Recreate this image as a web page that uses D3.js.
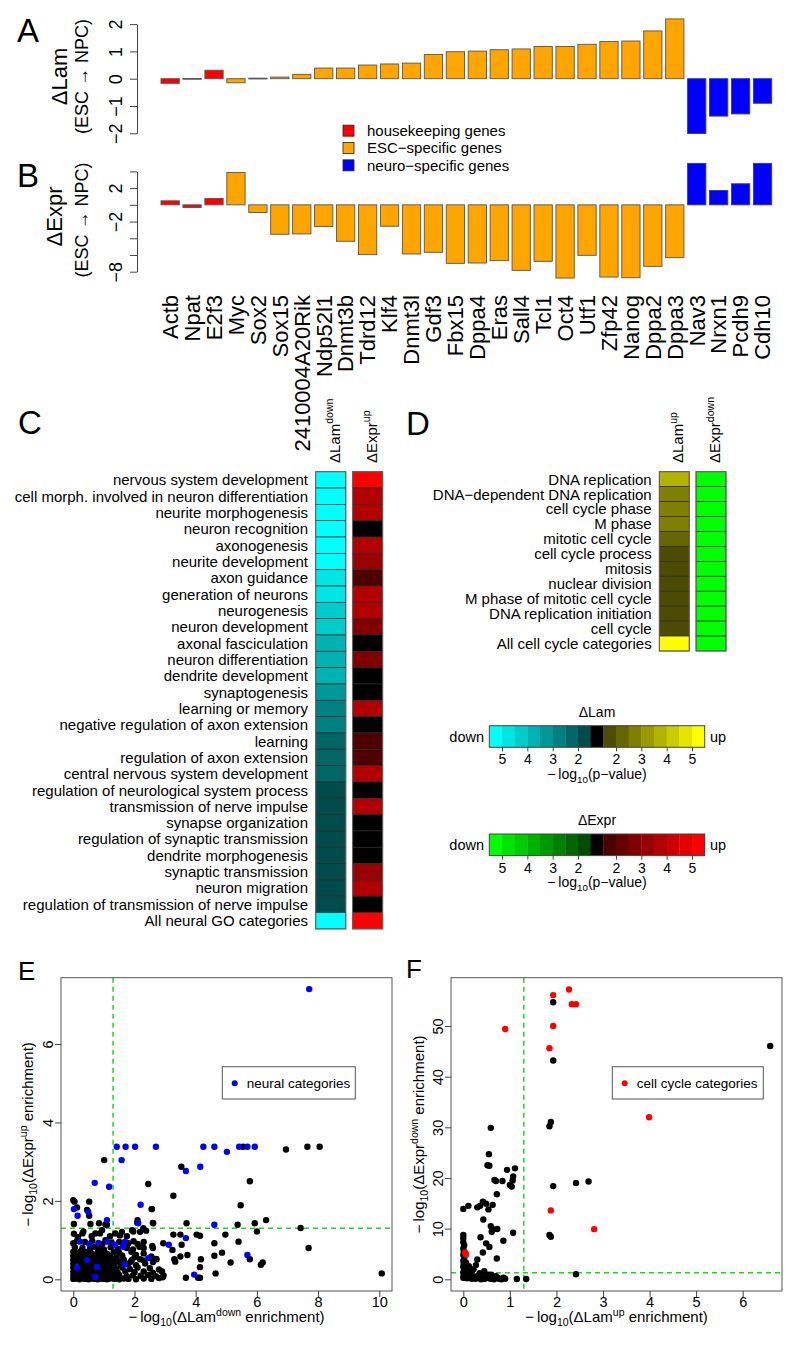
<!DOCTYPE html>
<html><head><meta charset="utf-8">
<script src="https://cdn.jsdelivr.net/npm/d3@7"></script>
<style>
body{margin:0;background:#fff;}
svg{display:block;font-family:"Liberation Sans",Arial,Helvetica,sans-serif;}
</style></head><body>
<svg id="chart" width="800" height="1345"></svg>
<script>
// ---------------- DATA ----------------
const genes = ["Actb","Npat","E2f3","Myc","Sox2","Sox15","2410004A20Rik","Ndp52l1","Dnmt3b","Tdrd12","Klf4","Dnmt3l","Gdf3","Fbx15","Dppa4","Eras","Sall4","Tcl1","Oct4","Utf1","Zfp42","Nanog","Dppa2","Dppa3","Nav3","Nrxn1","Pcdh9","Cdh10"];
const geneGroup = ["house","house","house","esc","esc","esc","esc","esc","esc","esc","esc","esc","esc","esc","esc","esc","esc","esc","esc","esc","esc","esc","esc","esc","neuro","neuro","neuro","neuro"];
const dLam = [-0.17,0.01,0.31,-0.15,0.02,0.06,0.16,0.39,0.39,0.50,0.54,0.57,0.89,0.99,1.01,1.06,1.09,1.18,1.18,1.26,1.36,1.38,1.75,2.19,-2.01,-1.37,-1.29,-0.90];
const dExpr = [0.48,-0.32,0.76,3.88,-0.92,-3.52,-3.48,-2.60,-4.36,-5.96,-2.56,-5.88,-5.68,-7.00,-6.96,-6.68,-7.84,-6.76,-8.76,-6.04,-8.64,-8.72,-7.36,-6.32,4.96,1.72,2.52,4.96];
const groupNames = ["housekeeping genes","ESC\u2212specific genes","neuro\u2212specific genes"];
const groupKeys = ["house","esc","neuro"];
const lamTicks = [-2,-1,0,1,2];
const exprTicks = [-8,-6,-4,-2,0,2,4];
const exprTickLabels = [2,-2,-8];

const cTerms = ["nervous system development","cell morph. involved in neuron differentiation","neurite morphogenesis","neuron recognition","axonogenesis","neurite development","axon guidance","generation of neurons","neurogenesis","neuron development","axonal fasciculation","neuron differentiation","dendrite development","synaptogenesis","learning or memory","negative regulation of axon extension","learning","regulation of axon extension","central nervous system development","regulation of neurological system process","transmission of nerve impulse","synapse organization","regulation of synaptic transmission","dendrite morphogenesis","synaptic transmission","neuron migration","regulation of transmission of nerve impulse","All neural GO categories"];
const cLamDown = [5.6,5.6,5.6,5.6,5.6,5.6,4.7,4.7,4.2,4.2,3.7,3.7,3.7,3.2,2.7,2.7,2.2,2.2,2.2,1.6,1.6,1.6,1.6,1.6,1.6,1.6,1.6,6.0];
const cExprUp = [5.6,3.7,3.7,0.5,3.7,3.2,1.6,3.7,3.7,2.7,0.5,2.7,0.5,0.5,3.7,0.5,1.6,1.6,3.7,0.5,3.7,0.5,0.5,0.5,3.2,3.7,0.5,6.0];

const dTerms = ["DNA replication","DNA\u2212dependent DNA replication","cell cycle phase","M phase","mitotic cell cycle","cell cycle process","mitosis","nuclear division","M phase of mitotic cell cycle","DNA replication initiation","cell cycle","All cell cycle categories"];
const dLamUp = [3.7,2.7,2.7,2.7,2.2,1.6,1.6,1.6,1.6,1.6,1.6,6.0];
const dExprDown = [6.0,6.0,6.0,6.0,6.0,6.0,6.0,6.0,6.0,6.0,6.0,6.0];

const pThresholds = [1.3,2,2.5,3,3.5,4,4.5,5];
const levelValues = [76,102,128,153,178,204,229,255];
const legendDownVals = [5.25,4.75,4.25,3.75,3.25,2.75,2.25,1.75];
const legendUpVals = [1.75,2.25,2.75,3.25,3.75,4.25,4.75,5.25];
const legendTicks = [5,4,3,2];

const eNeural = [[7.71,7.40],[1.42,3.38],[1.71,3.38],[2.02,3.38],[2.70,3.38],[4.25,3.38],[4.61,3.38],[5.02,3.25],[5.42,3.38],[5.69,3.38],[5.93,3.38],[1.58,3.04],[3.68,2.76],[4.15,2.87],[0.70,2.46],[1.17,2.36],[2.20,1.90],[0.02,1.79],[0.14,1.62],[0.49,1.72],[1.10,1.51],[2.12,1.43],[4.61,1.39],[3.12,0.88],[3.68,1.05],[5.69,0.62],[3.95,0.12],[2.45,0.54],[0.22,0.96],[0.52,0.90],[0.82,0.93],[1.11,0.96],[1.36,0.88],[1.69,0.96],[1.69,0.38],[0.45,0.49],[0.12,0.30],[0.77,0.32],[1.62,0.83],[0.72,0.06]];
const eOther = [[1.01,3.04],[3.53,2.87],[2.45,2.43],[5.77,2.50],[3.27,2.13],[6.95,3.31],[7.65,3.38],[8.05,3.38],[5.55,3.38],[0.00,2.02],[0.52,1.98],[0.12,1.83],[0.52,1.62],[2.56,1.79],[5.47,1.89],[6.30,1.51],[7.43,1.31],[5.37,1.39],[5.93,1.43],[6.00,1.22],[3.70,1.43],[2.61,1.43],[2.10,1.51],[0.02,1.41],[0.56,1.41],[0.84,1.43],[1.10,1.39],[3.27,1.14],[4.03,1.14],[4.14,1.11],[4.97,1.14],[5.40,0.96],[4.61,0.92],[3.50,1.14],[3.54,0.88],[2.94,0.92],[3.24,0.75],[7.69,0.80],[4.86,0.68],[4.61,0.60],[3.73,0.62],[3.50,0.58],[3.30,0.51],[3.33,0.45],[5.77,0.51],[6.13,0.37],[6.19,0.43],[5.14,0.43],[4.17,0.51],[4.14,0.31],[4.65,0.15],[4.14,0.04],[4.08,0.04],[3.68,0.04],[10.08,0.15],[2.72,0.51],[2.18,0.51],[1.91,0.49],[2.16,0.83],[1.96,1.22],[2.29,1.30],[1.52,1.12],[0.87,1.17],[0.33,1.22],[0.02,1.16],[0.45,1.77],[0.04,1.98],[1.05,1.40],[2.57,1.79],[2.60,1.44],[2.09,1.44],
[0.30,1.17],[0.72,1.17],[0.94,1.25],[1.37,1.17],[1.59,1.21],[1.92,1.25],[2.18,1.21],[2.38,1.24],[0.15,1.08],[0.60,1.10],[1.20,1.10],[1.75,1.10],
[0.00,0.92],[0.12,0.98],[0.38,0.95],[0.62,0.98],[0.95,0.90],[1.05,1.00],[1.25,0.94],[1.50,0.95],[1.80,0.92],[1.97,0.97],[2.10,0.90],[2.30,0.95],[2.58,0.85],
[0.05,0.82],[0.30,0.80],[0.55,0.78],[0.70,0.83],[0.88,0.80],[1.00,0.76],[1.22,0.82],[1.45,0.78],[1.75,0.80],[1.95,0.76],[2.30,0.80],[2.60,0.80],
[0.00,0.70],[0.12,0.68],[0.25,0.72],[0.42,0.70],[0.60,0.66],[0.80,0.70],[0.95,0.68],[1.10,0.65],[1.32,0.70],[1.50,0.68],[1.90,0.70],[2.30,0.66],[2.05,0.62],
[0.00,0.60],[0.08,0.56],[0.20,0.60],[0.35,0.58],[0.50,0.60],[0.65,0.56],[0.80,0.60],[0.90,0.55],[1.05,0.58],[1.20,0.60],[1.40,0.56],[1.60,0.60],[2.00,0.56],[2.55,0.58],[2.70,0.52],
[0.00,0.50],[0.10,0.47],[0.20,0.50],[0.30,0.46],[0.55,0.50],[0.70,0.50],[0.85,0.47],[1.00,0.50],[1.15,0.48],[1.30,0.50],[1.50,0.46],[1.65,0.50],[1.88,0.45],[2.30,0.48],[2.60,0.44],
[0.00,0.40],[0.25,0.40],[0.38,0.37],[0.50,0.40],[0.62,0.38],[0.75,0.40],[0.90,0.37],[1.02,0.40],[1.18,0.36],[1.35,0.40],[1.55,0.38],[1.80,0.40],[2.05,0.36],[2.35,0.40],
[0.00,0.30],[0.18,0.30],[0.30,0.27],[0.42,0.30],[0.55,0.28],[0.68,0.30],[0.80,0.27],[0.95,0.30],[1.08,0.28],[1.22,0.30],[1.40,0.27],[1.60,0.30],[1.85,0.26],[2.10,0.30],[2.50,0.28],[2.80,0.25],
[0.00,0.20],[0.10,0.18],[0.22,0.20],[0.35,0.17],[0.48,0.20],[0.60,0.18],[0.72,0.20],[0.85,0.17],[0.98,0.20],[1.12,0.18],[1.28,0.20],[1.45,0.17],[1.70,0.20],[2.00,0.18],[2.30,0.20],[2.60,0.17],[2.90,0.20],
[0.00,0.10],[0.06,0.08],[0.15,0.10],[0.27,0.09],[0.40,0.11],[0.52,0.08],[0.65,0.10],[0.78,0.09],[0.90,0.11],[1.03,0.08],[1.17,0.10],[1.32,0.09],[1.50,0.11],[1.75,0.08],[1.95,0.10],[2.20,0.09],[2.45,0.11],[2.70,0.08],[2.95,0.10],
[0.00,0.01],[0.10,0.02],[0.20,0.00],[0.30,0.02],[0.40,0.01],[0.50,0.00],[0.60,0.02],[0.70,0.01],[0.80,0.00],[0.90,0.02],[1.00,0.01],[1.10,0.00],[1.20,0.02],[1.35,0.01],[1.50,0.00],[1.65,0.02],[1.80,0.01],[2.05,0.00],[2.30,0.02],[2.55,0.01],[2.80,0.03],[2.92,0.05]];
const eXTicks = [0,2,4,6,8,10];
const eYTicks = [0,2,4,6];

const fCellCycle = [[2.27,57.2],[1.93,56.1],[2.33,54.3],[2.42,54.3],[0.90,49.4],[1.93,50.0],[1.85,45.6],[3.99,32.0],[1.88,13.6],[2.81,9.9],[0.04,5.3],[0.06,4.9]];
const fOther = [[1.93,54.7],[6.59,46.05],[1.93,43.2],[1.88,31.05],[1.85,30.2],[0.59,29.9],[0.55,24.7],[0.52,22.5],[0.56,22.4],[0.94,21.6],[1.11,21.9],[1.07,20.3],[1.06,19.5],[0.67,19.6],[0.70,19.4],[0.84,19.4],[1.00,18.6],[1.04,18.3],[1.93,18.4],[2.42,19.0],[2.69,19.3],[0.72,16.8],[0.00,13.9],[0.11,14.5],[0.30,14.2],[0.36,14.5],[0.42,15.3],[0.49,14.9],[0.54,13.8],[0.63,14.7],[0.43,11.8],[0.59,10.5],[0.64,9.87],[0.73,9.93],[0.61,9.4],[1.07,9.2],[0.86,7.6],[0.37,8.3],[0.49,7.1],[0.56,6.4],[0.42,5.3],[0.72,4.1],[0.30,3.9],[0.27,2.8],[1.85,8.75],[1.88,8.4],[2.42,1.0],[1.15,0.05],[1.35,0.05],[0.00,8.75],[0.00,8.1],
[0.00,0.3],[0.01,0.8],[0.00,1.4],[0.02,1.9],[0.00,2.5],[0.01,3.0],[0.00,3.6],[0.02,4.2],[0.00,4.8],[0.01,5.5],[0.00,6.1],[0.02,6.7],[0.00,7.3],[0.03,0.5],[0.05,1.1],[0.04,2.2],[0.06,3.3],[0.08,0.2],[0.10,0.9],[0.09,1.8],[0.12,2.6],[0.14,0.4],[0.15,1.3],[0.18,1.5],[0.35,1.2],[0.45,1.6],[0.60,0.9],[0.22,2.0],
[0.18,0.1],[0.22,0.5],[0.26,0.1],[0.30,0.6],[0.34,0.2],[0.38,0.0],[0.42,0.5],[0.46,0.1],[0.50,0.3],[0.54,0.9],[0.58,0.1],[0.62,0.4],[0.66,0.0],[0.70,0.6],[0.74,0.2],[0.78,0.1],[0.82,0.0],[0.86,0.3],[0.90,0.1]];
const fXTicks = [0,1,2,3,4,5,6];
const fYTicks = [0,10,20,30,40,50];
const sigLine = 1.3;

// ---------------- HELPERS ----------------
const svg = d3.select("#chart");
svg.append("rect").attr("width",800).attr("height",1345).attr("fill","#fff");
const AX = "#444";

function rich(sel, parts, fs){
  let cur = 0;
  parts.forEach(p=>{
    const target = p.sup ? -0.42*fs : (p.sub ? 0.28*fs : 0);
    sel.append("tspan").attr("dy", target-cur).attr("font-size", (p.sup||p.sub)? fs*0.7 : fs).text(p.t);
    cur = target;
  });
  return sel;
}
function letter(t,x,y,fs){ svg.append("text").attr("x",x).attr("y",y).attr("font-size",fs).text(t); }
function styleAxis(g){
  g.selectAll("path.domain").attr("stroke",AX);
  g.selectAll(".tick line").attr("stroke",AX);
  g.selectAll(".tick text").attr("fill","#000").attr("font-family",'"Liberation Sans",Arial,sans-serif');
}
function levelColor(kind){
  const cols = levelValues.map(v=>{
    if(kind==="cyan") return d3.rgb(0,v,v).formatHex();
    if(kind==="yellow") return d3.rgb(v,v,0).formatHex();
    if(kind==="green") return d3.rgb(0,v,0).formatHex();
    return d3.rgb(v,0,0).formatHex();
  });
  return d3.scaleThreshold().domain(pThresholds).range(["#000000",...cols]);
}
const cyanS = levelColor("cyan"), yellowS = levelColor("yellow"), greenS = levelColor("green"), redS = levelColor("red");
const groupColor = d3.scaleOrdinal().domain(groupKeys).range(["#FF0000","#FFA500","#0000FF"]);

// ---------------- PANELS A & B ----------------
letter("A",17,42,33);
letter("B",17,187,33);
const xBar = d3.scaleBand().domain(genes).range([161,771.7]).paddingInner(0.2/1.2).paddingOuter(0);
const yA = d3.scaleLinear().domain([-2,2]).range([133.3,24.1]);
const yB = d3.scaleLinear().domain([-8,4]).range([271.7,171.4]);

function bars(values, y){
  svg.append("g").selectAll("rect").data(genes).join("rect")
    .attr("x",d=>xBar(d)).attr("width",xBar.bandwidth())
    .attr("y",(d,i)=>y(Math.max(0,values[i])))
    .attr("height",(d,i)=>Math.max(0.8,Math.abs(y(values[i])-y(0))))
    .attr("fill",(d,i)=>groupColor(geneGroup[i]))
    .attr("stroke",(d,i)=>geneGroup[i]==="neuro"?"#3a3a8a":"#555").attr("stroke-width",0.9);
}
bars(dLam,yA);
bars(dExpr,yB);

function barAxis(scale, ticks, labels){
  const g = svg.append("g").attr("transform","translate(137,0)")
    .call(d3.axisLeft(scale).tickValues(ticks).tickSize(7).tickSizeOuter(0)
      .tickFormat(d=> labels.includes(d) ? d3.format("d")(d) : ""));
  g.selectAll(".tick text").attr("x",0).attr("dy",0).attr("font-size",18)
    .attr("text-anchor","middle").attr("transform","translate(-15,0) rotate(-90)");
  styleAxis(g);
}
barAxis(yA, lamTicks, lamTicks);
barAxis(yB, exprTicks, exprTickLabels);

svg.append("text").attr("transform","translate(67,76.5) rotate(-90)").attr("text-anchor","middle").attr("font-size",22).text("\u0394Lam");
svg.append("text").attr("transform","translate(88,76.5) rotate(-90)").attr("text-anchor","middle").attr("font-size",18).text("(ESC \u2192 NPC)");
svg.append("text").attr("transform","translate(62,216.5) rotate(-90)").attr("text-anchor","middle").attr("font-size",22).text("\u0394Expr");
svg.append("text").attr("transform","translate(88,220) rotate(-90)").attr("text-anchor","middle").attr("font-size",18).text("(ESC \u2192 NPC)");

svg.append("g").selectAll("text").data(genes).join("text")
  .attr("transform",d=>`translate(${xBar(d)+xBar.bandwidth()/2+7.8},295) rotate(-90)`)
  .attr("text-anchor","end").attr("font-size",22).text(d=>d);

const legA = d3.scaleBand().domain(groupKeys).range([122,174]);
const lg = svg.append("g");
lg.selectAll("rect").data(groupKeys).join("rect")
  .attr("x",343).attr("y",d=>legA(d)+legA.bandwidth()/2-5.5).attr("width",11).attr("height",11)
  .attr("fill",d=>groupColor(d)).attr("stroke","#222").attr("stroke-width",0.8);
lg.selectAll("text").data(groupKeys).join("text")
  .attr("x",367).attr("y",d=>legA(d)+legA.bandwidth()/2).attr("dy","0.36em").attr("font-size",15)
  .text((d,i)=>groupNames[i]);

// ---------------- PANELS C & D ----------------
letter("C",18,434,33);
letter("D",406,435,33);

function heat(terms, v1, v2, s1, s2, yTop, yBot, xL, xR, labelX, h1, h2){
  const y = d3.scaleBand().domain(d3.range(terms.length)).range([yTop,yBot]);
  const x = d3.scaleBand().domain([0,1]).range([xL,xR]).paddingInner(0.185);
  const g = svg.append("g");
  [[v1,s1],[v2,s2]].forEach(([vals,sc],c)=>{
    g.append("g").selectAll("rect").data(vals).join("rect")
      .attr("x",x(c)).attr("width",x.bandwidth())
      .attr("y",(d,i)=>y(i)).attr("height",y.bandwidth())
      .attr("fill",d=>sc(d)).attr("stroke","#2a2a2a").attr("stroke-width",0.7);
    g.append("rect").attr("x",x(c)).attr("y",yTop).attr("width",x.bandwidth()).attr("height",yBot-yTop)
      .attr("fill","none").attr("stroke","#666").attr("stroke-width",1);
  });
  g.append("g").selectAll("text").data(terms).join("text")
    .attr("x",labelX).attr("y",(d,i)=>y(i)+y.bandwidth()/2).attr("dy","0.36em")
    .attr("text-anchor","end").attr("font-size",15).text(d=>d);
  [h1,h2].forEach((h,c)=>{
    const t = g.append("text").attr("transform",`translate(${x(c)+x.bandwidth()/2+9},463) rotate(-90)`).attr("font-size",15);
    rich(t,[{t:h[0]},{t:h[1],sup:true}],15);
  });
}
heat(cTerms, cLamDown, cExprUp, cyanS, redS, 471.7, 928.9, 315.7, 382.7, 308, ["\u0394Lam","down"], ["\u0394Expr","up"]);
heat(dTerms, dLamUp, dExprDown, yellowS, greenS, 471.7, 651, 659.3, 726, 651.7, ["\u0394Lam","up"], ["\u0394Expr","down"]);

// color keys
function colorKey(top, title, downS, upS){
  const cells = [...legendDownVals.map(v=>({v,s:downS})), {v:0,s:downS}, ...legendUpVals.map(v=>({v,s:upS}))];
  const x = d3.scaleBand().domain(d3.range(cells.length)).range([489.3,704.7]);
  const g = svg.append("g");
  g.selectAll("rect").data(cells).join("rect")
    .attr("x",(d,i)=>x(i)).attr("width",x.bandwidth()+0.3).attr("y",top).attr("height",21.6)
    .attr("fill",d=>d.s(d.v));
  g.append("rect").attr("x",489.3).attr("y",top).attr("width",215.4).attr("height",21.6)
    .attr("fill","none").attr("stroke","#444").attr("stroke-width",1);
  g.append("text").attr("x",597).attr("y",top-9).attr("text-anchor","middle").attr("font-size",14).text(title);
  g.append("text").attr("x",484).attr("y",top+10.8).attr("dy","0.36em").attr("text-anchor","end").attr("font-size",14.5).text("down");
  g.append("text").attr("x",710).attr("y",top+10.8).attr("dy","0.36em").attr("font-size",14.5).text("up");
  const sd = d3.scaleLinear().domain([5,2]).range([502,578]);
  const su = d3.scaleLinear().domain([2,5]).range([616,692]);
  [sd,su].forEach(s=>{
    const a = g.append("g").attr("transform",`translate(0,${top+21.6})`)
      .call(d3.axisBottom(s).tickValues(legendTicks).tickSize(4).tickFormat(d3.format("d")));
    a.select("path.domain").remove();
    a.selectAll(".tick text").attr("y",17).attr("dy",0).attr("font-size",14);
    styleAxis(a);
  });
  const t = g.append("text").attr("x",597).attr("y",top+53).attr("text-anchor","middle").attr("font-size",14);
  rich(t,[{t:"\u2212\u2009log"},{t:"10",sub:true},{t:"(p\u2212value)"}],14);
}
colorKey(725.7,"\u0394Lam",cyanS,yellowS);
colorKey(834,"\u0394Expr",greenS,redS);

// ---------------- PANELS E & F ----------------
letter("E",18,980,26);
letter("F",406,978,26);

function scatter(opt){
  const {left,right,x,y,xTicks,yTicks,other,special,specColor,legendText,legX,legW,xLab,yLab,yLabX} = opt;
  const top = 977.7, bottom = 1291;
  const g = svg.append("g");
  const clipId = "clip"+left;
  svg.append("clipPath").attr("id",clipId).append("rect").attr("x",left).attr("y",top).attr("width",right-left).attr("height",bottom-top);
  const pg = g.append("g").attr("clip-path",`url(#${clipId})`);
  pg.append("line").attr("x1",x(sigLine)).attr("x2",x(sigLine)).attr("y1",top).attr("y2",bottom)
    .attr("stroke","#22d422").attr("stroke-width",1.5).attr("stroke-dasharray","5,4");
  pg.append("line").attr("x1",left).attr("x2",right).attr("y1",y(sigLine)).attr("y2",y(sigLine))
    .attr("stroke","#22d422").attr("stroke-width",1.5).attr("stroke-dasharray","5,4");
  pg.append("g").selectAll("circle").data(other).join("circle")
    .attr("cx",d=>x(d[0])).attr("cy",d=>y(d[1])).attr("r",3.2).attr("fill","#000");
  pg.append("g").selectAll("circle").data(special).join("circle")
    .attr("cx",d=>x(d[0])).attr("cy",d=>y(d[1])).attr("r",3.2).attr("fill",specColor);
  g.append("rect").attr("x",left).attr("y",top).attr("width",right-left).attr("height",bottom-top)
    .attr("fill","none").attr("stroke","#555").attr("stroke-width",1);
  const ax = g.append("g").attr("transform",`translate(0,${bottom})`)
    .call(d3.axisBottom(x).tickValues(xTicks).tickSize(6).tickFormat(d3.format("d")));
  ax.select("path.domain").remove();
  ax.selectAll(".tick text").attr("y",15.8).attr("dy",0).attr("font-size",14.5);
  styleAxis(ax);
  const ay = g.append("g").attr("transform",`translate(${left},0)`)
    .call(d3.axisLeft(y).tickValues(yTicks).tickSize(6).tickFormat(d3.format("d")));
  ay.select("path.domain").remove();
  ay.selectAll(".tick text").attr("x",0).attr("dy",0).attr("font-size",14.5)
    .attr("text-anchor","middle").attr("transform","translate(-8.5,0) rotate(-90)");
  styleAxis(ay);
  // legend
  g.append("rect").attr("x",legX).attr("y",1066.7).attr("width",legW).attr("height",32.3)
    .attr("fill","#fff").attr("stroke","#555").attr("stroke-width",1);
  g.append("circle").attr("cx",legX+12.4).attr("cy",1083.2).attr("r",3).attr("fill",specColor);
  g.append("text").attr("x",legX+24.4).attr("y",1083.2).attr("dy","0.36em").attr("font-size",13.5).text(legendText);
  const xl = g.append("text").attr("x",(left+right)/2).attr("y",1322).attr("text-anchor","middle").attr("font-size",15);
  rich(xl,xLab,15);
  const yl = g.append("text").attr("transform",`translate(${yLabX},${(top+bottom)/2}) rotate(-90)`).attr("text-anchor","middle").attr("font-size",15);
  rich(yl,yLab,15);
}

scatter({left:61,right:392,
  x:d3.scaleLinear().domain([0,10]).range([73.3,379.3]),
  y:d3.scaleLinear().domain([0,6]).range([1279.3,1044]),
  xTicks:eXTicks,yTicks:eYTicks,other:eOther,special:eNeural,specColor:"#0000FF",
  legendText:"neural categories",legX:222.3,legW:133,
  xLab:[{t:"\u2212\u2009log"},{t:"10",sub:true},{t:"(\u0394Lam"},{t:"down",sup:true},{t:" enrichment)"}],
  yLab:[{t:"\u2212\u2009log"},{t:"10",sub:true},{t:"(\u0394Expr"},{t:"up",sup:true},{t:" enrichment)"}],
  yLabX:33});

scatter({left:451,right:782,
  x:d3.scaleLinear().domain([0,6]).range([463.3,742.7]),
  y:d3.scaleLinear().domain([0,50]).range([1279.3,1026]),
  xTicks:fXTicks,yTicks:fYTicks,other:fOther,special:fCellCycle,specColor:"#FF0000",
  legendText:"cell cycle categories",legX:612.3,legW:151,
  xLab:[{t:"\u2212\u2009log"},{t:"10",sub:true},{t:"(\u0394Lam"},{t:"up",sup:true},{t:" enrichment)"}],
  yLab:[{t:"\u2212\u2009log"},{t:"10",sub:true},{t:"(\u0394Expr"},{t:"down",sup:true},{t:" enrichment)"}],
  yLabX:424});
</script>
</body></html>
